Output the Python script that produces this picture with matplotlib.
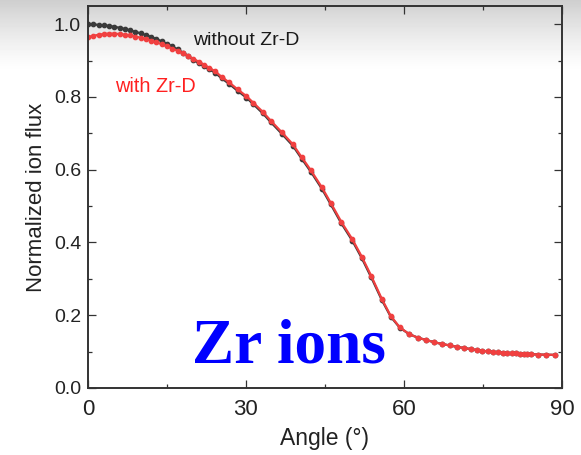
import matplotlib
matplotlib.use("Agg")
import matplotlib.pyplot as plt
import numpy as np
from matplotlib.ticker import MultipleLocator

# ion flux vs. emission angle, normalized to the bare-target maximum
angle = [
    0, 1, 2, 3, 4, 5, 6, 7, 8, 9, 10, 11, 12, 13, 14, 15, 16, 17, 18, 19,
    20, 21, 22, 23, 24.1, 25.4, 26.8, 28.4, 30.1, 31.4, 33.2, 34.7, 36.8,
    38.9, 40.6, 42.3, 44.4, 46.1, 48.1, 50.2, 52.0, 53.8, 55.8, 57.5, 59.2,
    61.0, 62.7, 64.2, 65.7, 67.2, 68.7, 70.1, 71.4, 72.7, 73.9, 74.9, 75.9,
    77.0, 77.8, 78.8, 79.6, 80.5, 81.3, 82.0, 82.8, 83.4, 84.1, 85.4, 87.0,
    88.7,
]

flux_with_zrd = [
    0.965, 0.968, 0.971, 0.973, 0.974, 0.974, 0.973, 0.971, 0.969, 0.966,
    0.963, 0.959, 0.955, 0.950, 0.945, 0.939, 0.933, 0.927, 0.920, 0.913,
    0.905, 0.897, 0.889, 0.880, 0.871, 0.855, 0.840, 0.821, 0.802, 0.784,
    0.759, 0.735, 0.703, 0.670, 0.634, 0.599, 0.552, 0.509, 0.457, 0.409,
    0.361, 0.308, 0.245, 0.198, 0.167, 0.148, 0.138, 0.132, 0.126, 0.121,
    0.117, 0.113, 0.110, 0.107, 0.104, 0.102, 0.101, 0.099, 0.098, 0.097,
    0.096, 0.0955, 0.095, 0.0945, 0.094, 0.0935, 0.093, 0.092, 0.0915, 0.091,
]

flux_without_zrd = [
    1.000, 0.9995, 0.998, 0.997, 0.995, 0.993, 0.990, 0.987, 0.983, 0.979,
    0.975, 0.970, 0.965, 0.959, 0.953, 0.946, 0.939, 0.931, 0.922, 0.913,
    0.902, 0.893, 0.885, 0.876, 0.867, 0.851, 0.836, 0.817, 0.798, 0.780,
    0.755, 0.731, 0.699, 0.666, 0.630, 0.595, 0.548, 0.505, 0.453, 0.405,
    0.357, 0.304, 0.242, 0.196, 0.166, 0.148, 0.138, 0.132, 0.126, 0.121,
    0.117, 0.113, 0.110, 0.107, 0.104, 0.102, 0.101, 0.099, 0.098, 0.097,
    0.096, 0.0955, 0.095, 0.0945, 0.094, 0.0935, 0.093, 0.092, 0.0915, 0.091,
]

x_ticks = [0, 30, 60, 90]
y_ticks = [0.0, 0.2, 0.4, 0.6, 0.8, 1.0]

RED = "#f04040"
DARK = "#3a3a3a"

plt.rcParams["font.family"] = ["Liberation Sans", "DejaVu Sans"]

fig = plt.figure(figsize=(5.81, 4.55), dpi=100)

# grey slide banner fading to white behind the plot
bg = fig.add_axes([0, 0, 1, 1], zorder=0)
rows = np.arange(455)
shade = 1.0 - 0.19 * np.clip(1.0 - rows / 72.0, 0, 1) ** 1.3
bg.imshow(shade[:, None], aspect="auto", extent=[0, 1, 0, 1],
          cmap="gray", vmin=0, vmax=1, interpolation="nearest")
bg.axis("off")

ax = fig.add_axes([0.1515, 0.1473, 0.8155, 0.8395], zorder=1)
ax.set_facecolor("none")

ax.plot(angle, flux_without_zrd, color=DARK, lw=1.6, marker="o", ms=3.1,
        mec=DARK, mfc=DARK)
ax.plot(angle, flux_with_zrd, color=RED, lw=1.6, marker="o", ms=3.1,
        mec=RED, mfc=RED)

ax.set_xlim(0, 90)
ax.set_ylim(0, 1.05)
ax.set_xticks(x_ticks)
ax.set_yticks(y_ticks)
ax.set_yticklabels([f"{v:.1f}" for v in y_ticks])
ax.xaxis.set_minor_locator(MultipleLocator(15))
ax.yaxis.set_minor_locator(MultipleLocator(0.1))

ax.tick_params(which="both", direction="in", top=True, right=True,
               color="#333333", width=0.9)
ax.tick_params(which="major", length=5.5)
ax.tick_params(which="minor", length=2.8)
ax.tick_params(axis="x", labelsize=16, pad=8, labelcolor="#222222")
ax.tick_params(axis="y", labelsize=14, pad=5, labelcolor="#222222")
for side in ax.spines.values():
    side.set_linewidth(1.4)
    side.set_color("#333333")

ax.set_xlabel("Angle (°)", fontsize=16.5, color="#222222", labelpad=5)
ax.set_ylabel("Normalized ion flux", fontsize=16, color="#222222", labelpad=5)

ax.text(19.9, 0.956, "without Zr-D", fontsize=14, color="#1a1a1a",
        ha="left", va="center")
ax.text(5.1, 0.830, "with Zr-D", fontsize=14.3, color="#ff2020",
        ha="left", va="center")
ax.text(19.7, 0.069, "Zr ions", fontsize=45.5, color="#0000ff",
        family="Liberation Serif", weight="bold", ha="left", va="baseline")

fig.savefig("out.png", dpi=100)
